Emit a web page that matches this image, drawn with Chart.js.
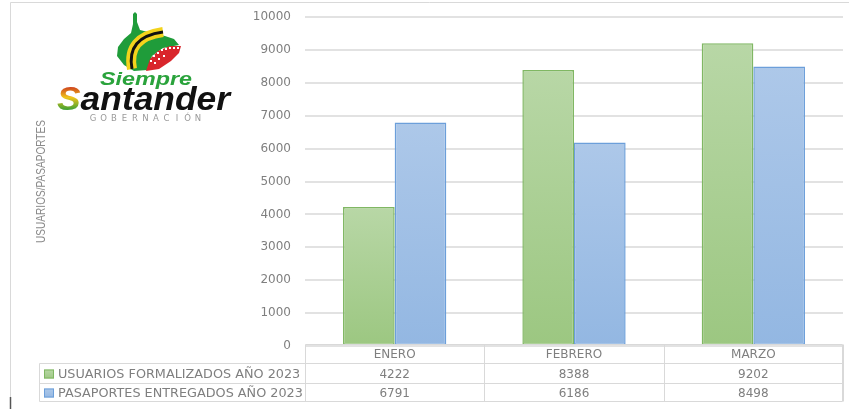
<!DOCTYPE html>
<html>
<head>
<meta charset="utf-8">
<script src="https://cdn.jsdelivr.net/npm/chart.js@4.4.1/dist/chart.umd.min.js"></script>
<style>
    html, body { margin: 0; padding: 0; background: #fff; }
    #wrap { width: 849px; height: 409px; }
</style>
</head>
<body>
<div id="wrap"><canvas id="chart" width="849" height="409"></canvas></div>
<script>
const categories = ["ENERO", "FEBRERO", "MARZO"];
const seriesNames = ["USUARIOS FORMALIZADOS AÑO 2023", "PASAPORTES ENTREGADOS AÑO 2023"];
const usuarios = [4222, 8388, 9202];
const pasaportes = [6791, 6186, 8498];
const yMin = 0;
const yMax = 10000;
const yStep = 1000;
const yTitle = "USUARIOS/PASAPORTES";

const textGrey = "#7f7f7f";
const lineGrey = "#d9d9d9";
const greenTop = "#b8d7a6", greenBottom = "#9cc781", greenBorder = "#80b763";
const blueTop = "#adc8e9", blueBottom = "#93b7e2", blueBorder = "#6c9fda";

// vertical gradient per bar, light at top like the excel fill
function barFill(top, bottom) {
    return function (context) {
        const chart = context.chart;
        if (!chart.chartArea || !context.parsed) return top;
        const y = chart.scales.y;
        const g = chart.ctx.createLinearGradient(0, y.getPixelForValue(context.parsed.y), 0, y.getPixelForValue(0));
        g.addColorStop(0, top);
        g.addColorStop(1, bottom);
        return g;
    };
}

// text squeezed/stretched to a given width
function fitText(c, text, x, y, width) {
    const w = c.measureText(text).width;
    c.save();
    c.translate(x, y);
    c.scale(width / w, 1);
    c.fillText(text, 0, 0);
    c.restore();
}

function drawLogo(c) {
    c.save();
    // map body
    c.fillStyle = "#1f9c3a";
    c.beginPath();
    c.moveTo(133, 14); c.lineTo(135, 12); c.lineTo(137, 14); c.lineTo(137, 22); c.lineTo(140, 30);
    c.lineTo(152, 33); c.lineTo(165, 36); c.lineTo(174, 39); c.lineTo(179, 45);
    c.lineTo(163, 48); c.lineTo(152, 56); c.lineTo(147, 70); c.lineTo(134, 71);
    c.lineTo(124, 65); c.lineTo(117, 56); c.lineTo(118, 47); c.lineTo(124, 39);
    c.lineTo(131, 33); c.lineTo(133, 24);
    c.closePath();
    c.fill();
    // red region
    c.fillStyle = "#d9262c";
    c.beginPath();
    c.moveTo(146, 71); c.lineTo(150, 59); c.lineTo(158, 51); c.lineTo(170, 46); c.lineTo(181, 46);
    c.lineTo(179, 53); c.lineTo(171, 61); c.lineTo(159, 69);
    c.closePath();
    c.fill();
    c.fillStyle = "#fff";
    const dots = [[151, 61], [154, 56], [158, 53], [162, 50], [166, 49], [170, 48], [174, 48], [178, 48],
                  [155, 63], [159, 59], [164, 56]];
    dots.forEach(function (d) { c.fillRect(d[0] - 1, d[1] - 1, 2, 2); });
    // yellow / black band
    c.lineCap = "butt";
    c.strokeStyle = "#f3d31c";
    c.lineWidth = 10;
    c.beginPath(); c.moveTo(132, 69); c.quadraticCurveTo(126, 37, 163, 32); c.stroke();
    c.strokeStyle = "#111";
    c.lineWidth = 3;
    c.beginPath(); c.moveTo(132, 69); c.quadraticCurveTo(126, 37, 163, 32); c.stroke();

    // words
    c.textBaseline = "alphabetic";
    c.textAlign = "left";
    c.font = "italic bold 19px 'Liberation Sans'";
    c.fillStyle = "#2aa33c";
    fitText(c, "Siempre", 100, 85, 92);

    c.font = "italic bold 34px 'Liberation Sans'";
    const full = c.measureText("Santander").width;
    const k = 173 / full;
    const sW = c.measureText("S").width;
    c.save();
    c.translate(57, 110);
    c.scale(k, 1);
    const sg = c.createLinearGradient(0, -25, 0, 0);
    sg.addColorStop(0, "#c8281e");
    sg.addColorStop(0.5, "#f0c419");
    sg.addColorStop(1, "#3aa035");
    c.fillStyle = sg;
    c.fillText("S", 0, 0);
    c.fillStyle = "#111";
    c.fillText("antander", sW, 0);
    c.restore();

    c.font = "8.5px 'DejaVu Sans'";
    c.fillStyle = "#9a9a9a";
    c.textAlign = "center";
    const gob = "GOBERNACIÓN";
    for (let i = 0; i < gob.length; i++) {
        c.fillText(gob[i], 93 + i * 10.5, 121);
    }
    c.restore();
}

const framePlugin = {
    id: "frame",
    beforeDraw(chart) {
        const c = chart.ctx;
        c.save();
        c.fillStyle = "#fff";
        c.fillRect(0, 0, chart.width, chart.height);
        c.strokeStyle = lineGrey;
        c.lineWidth = 1;
        c.beginPath();
        c.moveTo(10.5, 397); c.lineTo(10.5, 2.5); c.lineTo(chart.width, 2.5);
        c.stroke();
        c.strokeStyle = "#555";
        c.lineWidth = 1.5;
        c.beginPath(); c.moveTo(10.5, 397); c.lineTo(10.5, 409); c.stroke();
        drawLogo(c);

        // axis title
        c.font = "13px 'Liberation Sans'";
        c.fillStyle = "#8a8a8a";
        c.textAlign = "left";
        c.textBaseline = "middle";
        c.save();
        c.translate(41, 243);
        c.rotate(-Math.PI / 2);
        fitText(c, yTitle, 0, 0, 123);
        c.restore();
        c.restore();
    }
};

const tablePlugin = {
    id: "dataTable",
    afterDraw(chart) {
        const c = chart.ctx;
        const x = chart.scales.x;
        const area = chart.chartArea;
        const half = (x.getPixelForValue(1) - x.getPixelForValue(0)) / 2;
        const rows = [344.5, 363.5, 383.5, 401.5];
        const legendLeft = 39.5;
        const right = area.right - 0.5;
        const series = [
            { name: seriesNames[0], values: usuarios, top: greenTop, bottom: greenBottom, border: greenBorder },
            { name: seriesNames[1], values: pasaportes, top: blueTop, bottom: blueBottom, border: blueBorder }
        ];
        c.save();
        c.strokeStyle = lineGrey;
        c.lineWidth = 1;
        c.beginPath();
        c.moveTo(area.left + 0.5, rows[0]); c.lineTo(right, rows[0]);
        for (let r = 1; r < rows.length; r++) {
            c.moveTo(legendLeft, rows[r]); c.lineTo(right, rows[r]);
        }
        c.moveTo(legendLeft, rows[1]); c.lineTo(legendLeft, rows[3]);
        for (let i = 0; i <= categories.length; i++) {
            const px = Math.round(x.getPixelForValue(i) - half) + 0.5;
            c.moveTo(px, rows[0]); c.lineTo(px, rows[3]);
        }
        c.moveTo(right, rows[0]); c.lineTo(right, rows[3]);
        c.stroke();

        c.font = "12px 'DejaVu Sans'";
        c.fillStyle = textGrey;
        c.textBaseline = "middle";
        c.textAlign = "center";
        categories.forEach(function (cat, i) {
            c.fillText(cat, x.getPixelForValue(i), (rows[0] + rows[1]) / 2 + 1);
        });
        series.forEach(function (s, r) {
            const cy = (rows[r + 1] + rows[r + 2]) / 2 + 1;
            c.font = "12px 'DejaVu Sans'";
            c.textAlign = "center";
            c.fillStyle = textGrey;
            s.values.forEach(function (v, i) {
                c.fillText(String(v), x.getPixelForValue(i), cy);
            });
            const g = c.createLinearGradient(0, cy - 5, 0, cy + 5);
            g.addColorStop(0, s.top);
            g.addColorStop(1, s.bottom);
            c.fillStyle = g;
            c.fillRect(44, cy - 5, 10, 9);
            c.strokeStyle = s.border;
            c.strokeRect(44.5, cy - 4.5, 9, 8);
            c.fillStyle = textGrey;
            c.textAlign = "left";
            c.font = "12.8px 'DejaVu Sans'";
            c.fillText(s.name, 58, cy);
        });
        c.restore();
    }
};

new Chart(document.getElementById("chart").getContext("2d"), {
    type: "bar",
    data: {
        labels: categories,
        datasets: [
            {
                label: seriesNames[0],
                data: usuarios,
                backgroundColor: barFill(greenTop, greenBottom),
                borderColor: greenBorder,
                borderWidth: 1.5,
                borderSkipped: false,
                barPercentage: 1,
                categoryPercentage: 0.576,
            },
            {
                label: seriesNames[1],
                data: pasaportes,
                backgroundColor: barFill(blueTop, blueBottom),
                borderColor: blueBorder,
                borderWidth: 1.5,
                borderSkipped: false,
                barPercentage: 1,
                categoryPercentage: 0.576,
            }
        ]
    },
    options: {
        responsive: false,
        animation: false,
        devicePixelRatio: 1,
        layout: { padding: { left: 0, right: 6, top: 17, bottom: 63 } },
        scales: {
            x: { display: false },
            y: {
                min: yMin,
                max: yMax,
                ticks: {
                    stepSize: yStep,
                    color: textGrey,
                    font: { family: "DejaVu Sans", size: 12 },
                    padding: 14,
                    callback: function (value) { return String(value); }
                },
                grid: { color: "#e2e2e2", lineWidth: 2, drawTicks: false },
                border: { display: false },
                afterFit(scale) {
                    scale.width = 305;
                    scale.paddingTop = 0;
                    scale.paddingBottom = 0;
                }
            }
        },
        plugins: {
            legend: { display: false },
            tooltip: { enabled: false },
            title: { display: false }
        }
    },
    plugins: [framePlugin, tablePlugin]
});
</script>
</body>
</html>
